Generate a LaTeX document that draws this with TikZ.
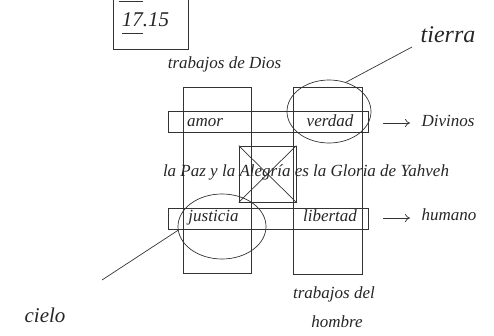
\documentclass[tikz,border=0pt]{standalone}
\usepackage{fontspec}
\setmainfont{Liberation Serif}
\usetikzlibrary{arrows.meta,shapes.geometric}
\begin{document}
\begin{tikzpicture}[x=1pt,y=-1pt,
  ln/.style={draw=black!80,line width=0.7pt},
  lbl/.style={font=\fontsize{17}{20}\selectfont\itshape,text=black!85,inner sep=0pt,anchor=base},
  big/.style={font=\fontsize{24}{28}\selectfont\itshape,text=black!85,inner sep=0pt,anchor=base},
  arr/.style={ln,-{To[length=5pt,width=8pt]}}]
\useasboundingbox (0,0) rectangle (494,336);
\clip (0,0) rectangle (494,336);
% number box
\node[ln,minimum width=75pt,minimum height=70pt,inner sep=0pt] (numbox) at (150.5,14) {};
\node[lbl,font=\fontsize{21}{24}\selectfont\itshape] (num) at (145.5,27) {17.15};
\draw[ln] (119,1) -- (143,1);
\draw[ln] (122,33) -- (143,33);
% columns
\node[ln,minimum width=68pt,minimum height=186pt,inner sep=0pt] (colL) at (217,180) {};
\node[ln,minimum width=69pt,minimum height=187pt,inner sep=0pt] (colR) at (327.5,180.5) {};
% bars
\node[ln,minimum width=200pt,minimum height=21pt,inner sep=0pt] (barT) at (268,121.5) {};
\node[ln,minimum width=200pt,minimum height=21pt,inner sep=0pt] (barB) at (268,218.5) {};
% crossed square
\node[ln,minimum width=57pt,minimum height=56pt,inner sep=0pt] (sq) at (267.5,174) {};
\draw[ln] (sq.north west) -- (sq.south east);
\draw[ln] (sq.north east) -- (sq.south west);
% ellipses
\node[ln,ellipse,minimum width=84pt,minimum height=63pt,inner sep=0pt] (elT) at (329,111.5) {};
\node[ln,ellipse,minimum width=88pt,minimum height=65pt,inner sep=0pt] (elB) at (222,226.5) {};
% texts
\node[lbl] (tdios) at (224.5,69) {trabajos de Dios};
\node[lbl] (amor) at (205,127) {amor};
\node[lbl] (verdad) at (330,127) {verdad};
\node[lbl] (divinos) at (448,127) {Divinos};
\node[lbl] (paz) at (306,177) {la Paz y la Alegría es la Gloria de Yahveh};
\node[lbl] (justicia) at (213.5,222) {justicia};
\node[lbl] (libertad) at (330,222) {libertad};
\node[lbl] (humano) at (449,221) {humano};
\node[lbl] (thom1) at (334,298) {trabajos del};
\node[lbl] (thom2) at (337,327) {hombre};
\node[big] (tierra) at (448,43) {tierra};
\node[big,font=\fontsize{21}{25}\selectfont\itshape] (cielo) at (45,322) {cielo};
% arrows
\coordinate (aT1) at (383,123);
\coordinate (aT2) at (410,123);
\coordinate (aB1) at (383,218);
\coordinate (aB2) at (410,218);
\draw[arr] (aT1) -- (aT2);
\draw[arr] (aB1) -- (aB2);
% pointer lines
\coordinate (tierraEnd) at (412,47);
\coordinate (cieloEnd) at (102,280);
\draw[ln] (elT.60) -- (tierraEnd);
\draw[ln] (elB.185) -- (cieloEnd);
\end{tikzpicture}
\end{document}
